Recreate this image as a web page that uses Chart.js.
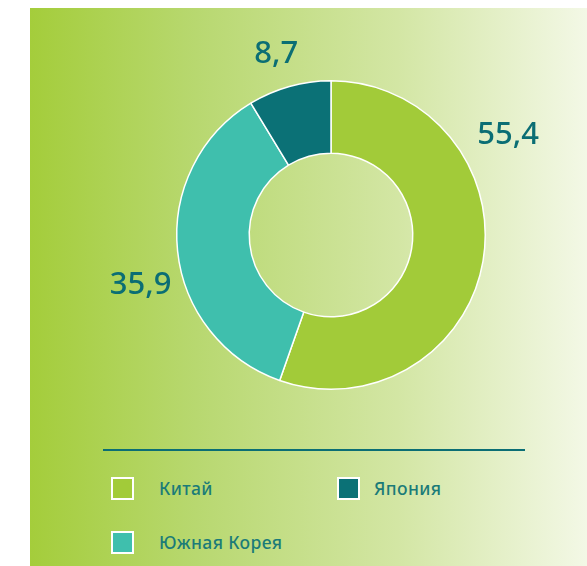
<!DOCTYPE html>
<html>
<head>
<meta charset="utf-8">
<script src="https://cdn.jsdelivr.net/npm/chart.js@4/dist/chart.umd.min.js"></script>
<style>
  html, body { margin: 0; padding: 0; background: #fff; }
  body { width: 587px; height: 566px; position: relative; overflow: hidden; font-family: "Noto Sans", sans-serif; }
  #panel {
    position: absolute; left: 30px; top: 8px; width: 557px; height: 558px;
    background: linear-gradient(to right, #a4cd3b 0%, #b8d870 30%, #d3e6a4 66%, #f3f8e6 100%);
  }
  #wrap { position: absolute; left: 0; top: 0; width: 557px; height: 430px; }
  #rule { position: absolute; left: 73px; top: 441px; width: 422px; height: 2px; background: #0b6e74; }
  .item { position: absolute; display: flex; align-items: center; height: 24px; }
  .box { width: 23px; height: 23px; box-sizing: border-box; border: 2px solid #fff; }
  .lbl { color: #1b7b78; font-size: 17.5px; font-weight: 500; letter-spacing: 0.4px; }
</style>
</head>
<body>
<div id="panel">
  <div id="wrap"><canvas id="donut"></canvas></div>
  <div id="rule"></div>
  <div id="legend"></div>
</div>
<script>
  // данные
  const categories = ['Китай', 'Южная Корея', 'Япония'];
  const values = [55.4, 35.9, 8.7];
  const colors = ['#a2cb39', '#3fbfad', '#0b7176'];
  // порядок в легенде
  const legendOrder = ['Китай', 'Япония', 'Южная Корея'];

  // подписи значений снаружи кольца
  const outerLabels = {
    id: 'outerLabels',
    afterDatasetsDraw(chart, args, opts) {
      const ctx = chart.ctx;
      const meta = chart.getDatasetMeta(0);
      ctx.save();
      ctx.fillStyle = opts.color;
      ctx.font = opts.font;
      ctx.textAlign = 'center';
      ctx.textBaseline = 'alphabetic';
      meta.data.forEach((arc, i) => {
        const a = opts.angles[i] * Math.PI / 180;
        const d = arc.outerRadius + opts.extra[i];
        const x = arc.x + Math.sin(a) * d;
        const y = arc.y - Math.cos(a) * d;
        ctx.fillText(String(values[i]).replace('.', ','), x, y);
      });
      ctx.restore();
    }
  };

  new Chart(document.getElementById('donut'), {
    type: 'doughnut',
    data: {
      labels: categories,
      datasets: [{
        data: values,
        backgroundColor: colors,
        borderColor: '#ffffff',
        borderWidth: 1.5
      }]
    },
    options: {
      responsive: true,
      maintainAspectRatio: false,
      animation: false,
      cutout: '53%',
      layout: { padding: { left: 146, right: 101, top: 72, bottom: 48 } },
      plugins: {
        legend: { display: false },
        tooltip: { enabled: false },
        outerLabels: {
          color: '#0b6e74',
          font: '500 31px "Noto Sans"',
          angles: [62.7, 252.8, 342.3],
          extra: [45, 45, 26]
        }
      }
    },
    plugins: [outerLabels]
  });

  // легенда
  const legend = document.getElementById('legend');
  legendOrder.forEach((name, k) => {
    const i = categories.indexOf(name);
    const col = k % 2, row = Math.floor(k / 2);
    const item = document.createElement('div');
    item.className = 'item';
    item.style.left = (81 + col * 226) + 'px';
    item.style.top = (468 + row * 54) + 'px';
    item.innerHTML = '<div class="box" style="background:' + colors[i] + '"></div>' +
      '<span class="lbl" style="margin-left:' + (col ? 14 : 25) + 'px">' + name + '</span>';
    legend.appendChild(item);
  });
</script>
</body>
</html>
